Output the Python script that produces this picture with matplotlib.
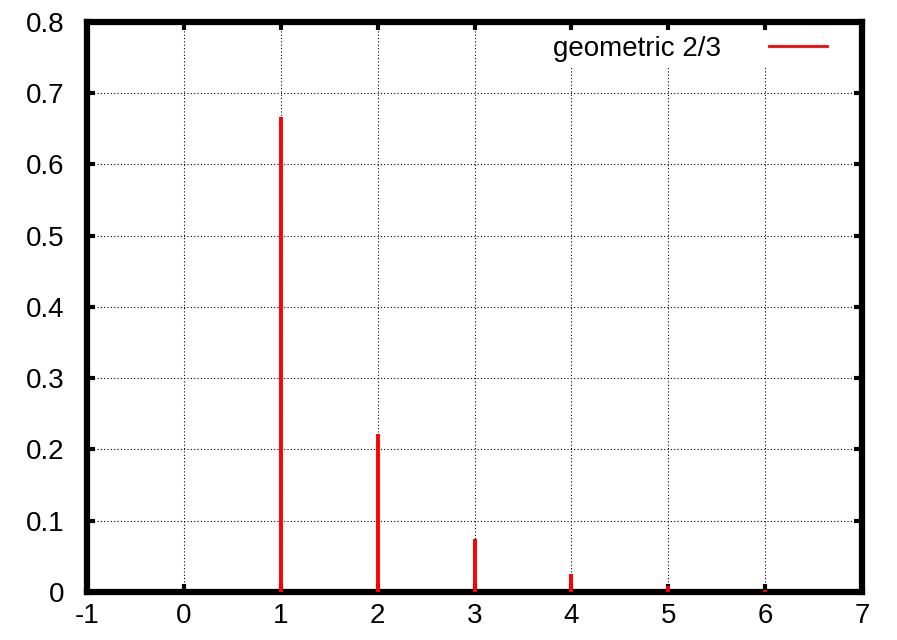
import numpy as np
import matplotlib.pyplot as plt
from matplotlib.lines import Line2D

# -------- DATA --------
k = [1, 2, 3, 4, 5, 6]
prob = [0.6667, 0.2222, 0.0741, 0.0247, 0.0082, 0.0027]
xticks = [-1, 0, 1, 2, 3, 4, 5, 6, 7]
yticks = [0, 0.1, 0.2, 0.3, 0.4, 0.5, 0.6, 0.7, 0.8]

# -------- PLOT --------
plt.rcParams['font.family'] = ['Liberation Sans', 'DejaVu Sans']
fig = plt.figure(figsize=(8.97, 6.4), dpi=100)
ax = fig.add_axes([0.097, 0.075, 0.864, 0.891])

ax.vlines(k, 0, prob, colors='#ff0000', linewidth=2.8, zorder=3)

ax.set_xlim(-1, 7)
ax.set_ylim(0, 0.8)
ax.set_xticks(xticks)
ax.set_yticks(yticks)
ax.set_xticklabels([str(t) for t in xticks])
ax.set_yticklabels(['0'] + ['%.1f' % t for t in yticks[1:]])
ax.tick_params(direction='in', length=6, width=3, labelsize=20,
               top=True, right=True)
ax.tick_params(axis='x', pad=8)
ax.tick_params(axis='y', pad=16)
ax.grid(True, color='black', linestyle=(0, (1, 2)), linewidth=0.8)
for s in ax.spines.values():
    s.set_linewidth(4.5)

# legend: text first, red line on the right, white box over the grid
h = Line2D([], [], color='#ff0000', linewidth=2)
leg = ax.legend([h], ['geometric 2/3'], loc='upper right', markerfirst=False,
                frameon=True, fancybox=False, edgecolor='none', framealpha=1,
                fontsize=20, handlelength=2.1, handletextpad=1.7,
                borderpad=0.2, borderaxespad=0,
                bbox_to_anchor=(0.962, 0.985))

fig.savefig('out.png', dpi=100)
